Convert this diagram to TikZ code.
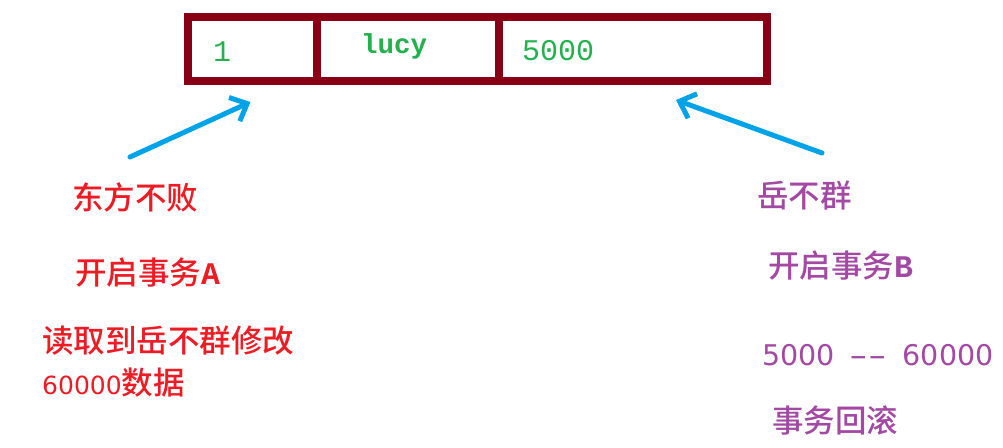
\documentclass[tikz,border=0pt]{standalone}
\usepackage{fontspec}
\setmainfont{Noto Sans CJK SC}[UprightFont=* Medium, BoldFont=* Bold]
\newfontfamily\monofnt{Liberation Mono}
\newfontfamily\digfnt{DejaVu Sans}
\usetikzlibrary{arrows.meta}
\definecolor{tblred}{HTML}{880015}
\definecolor{pgreen}{HTML}{22B14C}
\definecolor{pblue}{HTML}{00A2E8}
\definecolor{pred}{HTML}{ED1C24}
\definecolor{ppurple}{HTML}{A349A4}
\tikzset{
  cell/.style={draw=tblred, line width=8pt, minimum height=64pt, inner sep=0pt, anchor=north west},
  celltxt/.style={text=pgreen, font=\monofnt\fontsize{30}{32}\selectfont, inner sep=0pt, anchor=base west},
  lefttxt/.style={text=pred, font=\fontsize{31.5}{34}\selectfont, inner sep=0pt, anchor=base west},
  righttxt/.style={text=ppurple, font=\fontsize{31.5}{34}\selectfont, inner sep=0pt, anchor=base west},
  blarrow/.style={draw=pblue, line width=5pt, line cap=round, -{Straight Barb[length=14pt, width=26pt, line width=5pt]}}
}
\newcommand{\widehyph}{\scalebox{1.8}[1.0]{-}}
\begin{document}
\begin{tikzpicture}[x=1pt, y=-1pt]
\useasboundingbox[fill=white] (0,0) rectangle (1003,447);
% table
\node[cell, minimum width=129pt] (c1) at (184,13) {};
\node[cell, minimum width=182pt] (c2) at (313,13) {};
\node[cell, minimum width=268pt] (c3) at (495,13) {};
\node[celltxt] (t1) at (213,61) {1};
\node[celltxt, font=\monofnt\bfseries\fontsize{27.5}{30}\selectfont] (t2) at (361,53) {lucy};
\node[celltxt] (t3) at (522,60) {5000};
% left texts
\node[lefttxt] (l1) at (72,209) {东方不败};
\node[lefttxt] (l2) at (75,284) {开启事务{\monofnt\bfseries A}};
\node[lefttxt] (l3) at (42,352) {读取到岳不群修改};
\node[lefttxt] (l4) at (42,394) {{\digfnt\fontsize{25}{30}\selectfont 60000}数据};
% right texts
\node[righttxt] (r1) at (757,207) {岳不群};
\node[righttxt] (r2) at (768,277) {开启事务{\monofnt\bfseries B}};
\node[righttxt, font=\digfnt\fontsize{28.5}{32}\selectfont] (r3) at (762,365) {5000\hspace{15pt}\widehyph\widehyph\hspace{16pt}60000};
\node[righttxt] (r4) at (772,432) {事务回滚};
% arrows
\coordinate (a1s) at (130,157);
\coordinate (a1e) at ([xshift=-2pt, yshift=-17pt]c1.south);
\coordinate (a2s) at (822,153);
\coordinate (a2e) at ([xshift=43pt, yshift=-15pt]c3.south);
\draw[blarrow] (a1s) -- (a1e);
\draw[blarrow] (a2s) -- (a2e);
\end{tikzpicture}
\end{document}
